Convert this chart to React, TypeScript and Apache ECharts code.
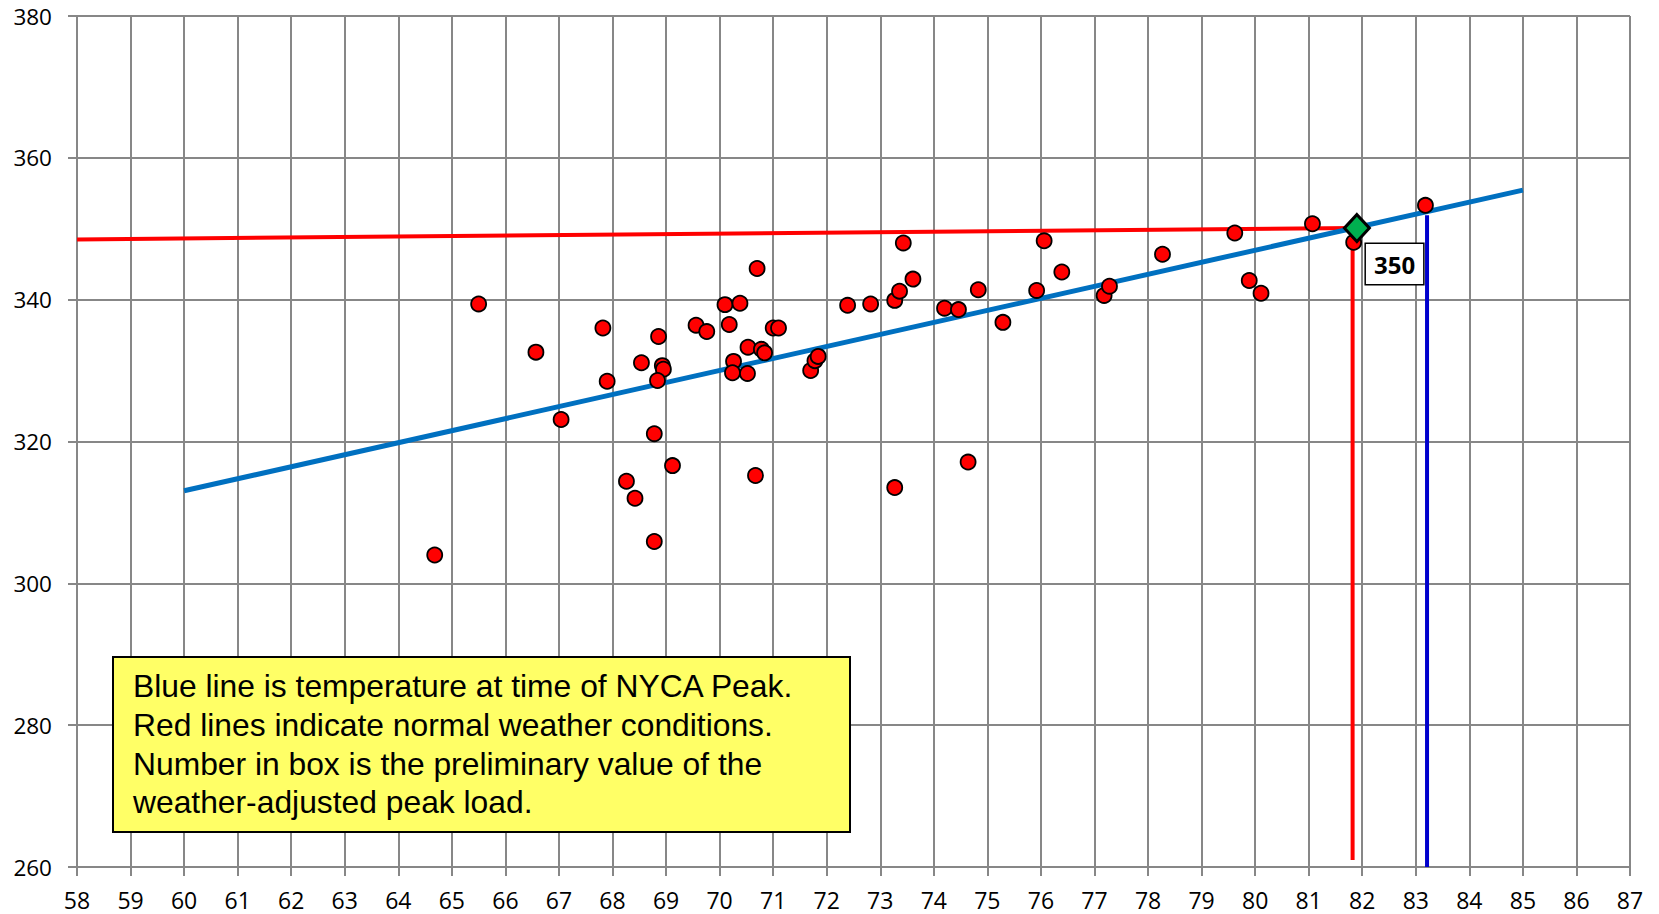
import React, { useEffect, useRef } from "react";
import * as echarts from "echarts";

// Observed points: temperature (°F) vs load
const temps = [
  64.68, 65.5, 66.57, 67.04, 67.82, 67.9, 68.26, 68.42, 68.54, 68.78, 68.78, 68.86, 68.93, 68.95, 68.84,
  69.12, 69.56, 69.76, 70.1, 70.18, 70.26, 70.24, 70.38, 70.53, 70.52, 70.67, 70.7, 70.78, 70.84, 71.0,
  71.1, 71.7, 71.78, 71.84, 72.39, 72.82, 73.27, 73.27, 73.36, 73.43, 73.61, 74.2, 74.46, 74.64, 74.83,
  75.29, 75.92, 76.06, 76.39, 77.18, 77.28, 78.27, 79.62, 79.89, 80.11, 81.07, 81.84, 83.18,
];
const loads = [
  304.0, 339.4, 332.6, 323.1, 336.0, 328.5, 314.4, 312.0, 331.1, 321.1, 305.9, 334.8, 330.7, 330.2, 328.6,
  316.6, 336.4, 335.5, 339.3, 336.5, 331.3, 329.7, 339.5, 333.3, 329.6, 315.2, 344.4, 333.0, 332.5, 336.0,
  336.0, 330.0, 331.4, 332.0, 339.2, 339.4, 339.9, 313.5, 341.2, 348.0, 342.9, 338.8, 338.6, 317.1, 341.4,
  336.8, 341.3, 348.3, 343.9, 340.6, 341.9, 346.4, 349.4, 342.7, 340.9, 350.7, 348.1, 353.3,
];

// Regression line
const trendX = [60, 85];
const trendY = [313.05, 355.45];

// Normal weather conditions (red lines)
const normalX = [58, 81.88];
const normalY = [348.5, 350.1];
const normalTemp = 81.82;
const normalDrop = [350.0, 261.0];

// Temperature at time of NYCA peak (blue line)
const peakTemp = 83.21;
const peakSpan = [260, 351.9];

// Weather-adjusted peak
const adjusted = [81.9, 350.1];
const adjustedLabel = "350";

const xTicks = { min: 58, max: 87, interval: 1 };
const yTicks = { min: 260, max: 380, interval: 20 };

const noteLines = [
  "Blue line is temperature at time of NYCA Peak.",
  "Red lines indicate normal weather conditions.",
  "Number in box is the preliminary value of the",
  "weather-adjusted peak load.",
];

const GRID = "#878787";
const FONT = "Open Sans";

export default function App() {
  const ref = useRef<HTMLDivElement>(null);
  useEffect(() => {
    if (!ref.current) return;
    const chart = echarts.init(ref.current, null, { renderer: "svg" });
    const points = temps.map((t, i) => [t, loads[i]]);
    chart.setOption({
      animation: false,
      backgroundColor: "#ffffff",
      grid: { left: 77, right: 29, top: 16, bottom: 47, containLabel: false },
      xAxis: {
        type: "value",
        min: xTicks.min,
        max: xTicks.max,
        interval: xTicks.interval,
        axisLine: { show: true, lineStyle: { color: GRID, width: 2 } },
        axisTick: { show: true, length: 9, lineStyle: { color: GRID, width: 2 } },
        splitLine: { show: true, lineStyle: { color: GRID, width: 2 } },
        axisLabel: { color: "#000", fontSize: 23, fontFamily: FONT, margin: 21 },
      },
      yAxis: {
        type: "value",
        min: yTicks.min,
        max: yTicks.max,
        interval: yTicks.interval,
        axisLine: { show: true, lineStyle: { color: GRID, width: 2 } },
        axisTick: { show: true, length: 9, lineStyle: { color: GRID, width: 2 } },
        splitLine: { show: true, lineStyle: { color: GRID, width: 2 } },
        axisLabel: { color: "#000", fontSize: 22.5, fontFamily: FONT, margin: 25 },
      },
      series: [
        {
          type: "line",
          data: normalX.map((x, i) => [x, normalY[i]]),
          symbol: "none",
          lineStyle: { color: "#ff0000", width: 4 },
          z: 2,
        },
        {
          type: "line",
          data: normalDrop.map((y) => [normalTemp, y]),
          symbol: "none",
          lineStyle: { color: "#ff0000", width: 4 },
          z: 2,
        },
        {
          type: "line",
          data: peakSpan.map((y) => [peakTemp, y]),
          symbol: "none",
          lineStyle: { color: "#0000cd", width: 4 },
          z: 2,
        },
        {
          type: "line",
          data: trendX.map((x, i) => [x, trendY[i]]),
          symbol: "none",
          lineStyle: { color: "#0070c0", width: 5 },
          z: 3,
        },
        {
          type: "scatter",
          data: points,
          symbolSize: 15,
          itemStyle: { color: "#ff0000", borderColor: "#000", borderWidth: 1.8, opacity: 1 },
          z: 4,
        },
        {
          type: "scatter",
          data: [adjusted],
          symbol: "diamond",
          symbolSize: [25, 27],
          itemStyle: { color: "#00b050", borderColor: "#000", borderWidth: 3, opacity: 1 },
          z: 5,
          label: {
            show: true,
            formatter: () => adjustedLabel,
            position: [23, 31],
            align: "left",
            verticalAlign: "top",
            fontFamily: FONT,
            fontWeight: "bold",
            fontSize: 24,
            color: "#000",
            backgroundColor: "#fff",
            borderColor: "#000",
            borderWidth: 1.5,
            padding: [5, 8, 4, 8],
            lineHeight: 31,
          },
        },
      ],
      graphic: [
        {
          type: "rect",
          shape: { x: 113, y: 657, width: 737, height: 175 },
          style: { fill: "#ffff66", stroke: "#000", lineWidth: 2 },
          z: 10,
        },
        {
          type: "text",
          x: 133,
          y: 667,
          style: {
            text: noteLines.join("\n"),
            fontFamily: "Liberation Sans",
            fontSize: 31.8,
            lineHeight: 38.6,
            fill: "#000",
            align: "left",
            verticalAlign: "top",
          },
          z: 11,
        },
      ],
    });
    return () => chart.dispose();
  }, []);
  return (
    <div
      ref={ref}
      style={{ position: "fixed", left: 0, top: 0, width: 1659, height: 914, background: "#fff" }}
    />
  );
}
